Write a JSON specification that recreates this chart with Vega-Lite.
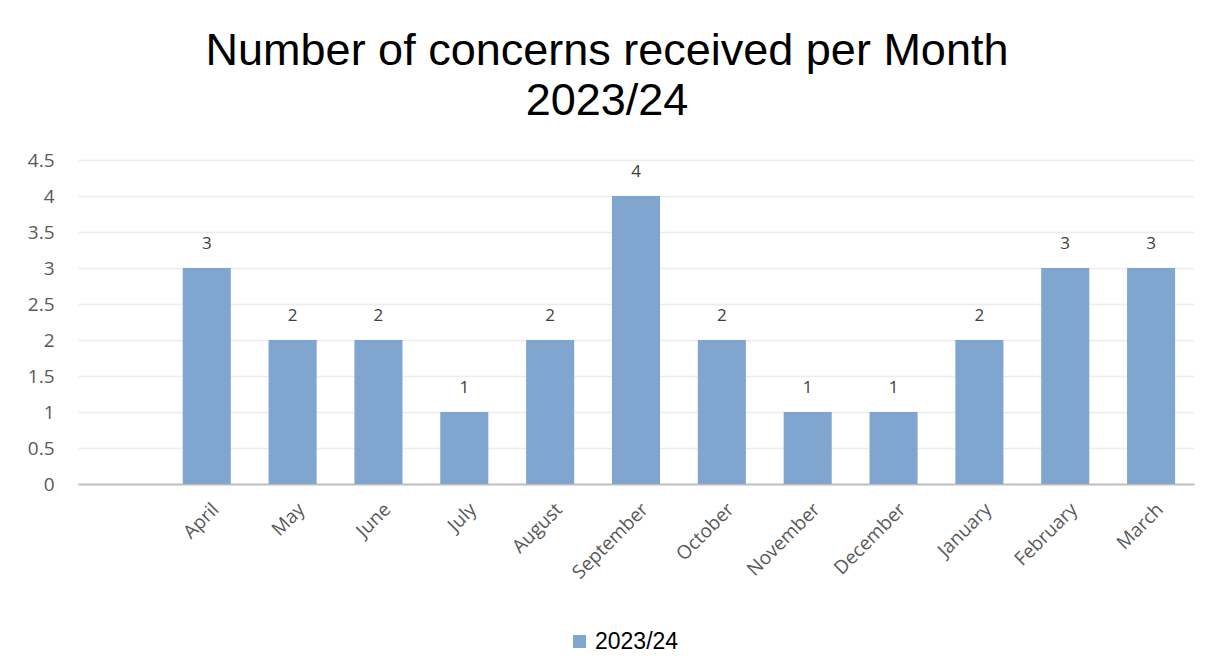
{
  "$schema": "https://vega.github.io/schema/vega-lite/v6.json",
  "width": 1116,
  "height": 324,
  "autosize": {"type": "none"},
  "padding": {"left": 78, "top": 160, "right": 18, "bottom": 186},
  "background": "white",
  "title": {
    "text": ["Number of concerns received per Month", "2023/24"],
    "font": "Liberation Sans",
    "fontSize": 45,
    "fontWeight": "normal",
    "color": "#000000",
    "lineHeight": 50,
    "anchor": "middle",
    "dx": -29,
    "offset": 27
  },
  "data": {
    "values": [
      {"month": "April", "count": 3, "series": "2023/24"},
      {"month": "May", "count": 2, "series": "2023/24"},
      {"month": "June", "count": 2, "series": "2023/24"},
      {"month": "July", "count": 1, "series": "2023/24"},
      {"month": "August", "count": 2, "series": "2023/24"},
      {"month": "September", "count": 4, "series": "2023/24"},
      {"month": "October", "count": 2, "series": "2023/24"},
      {"month": "November", "count": 1, "series": "2023/24"},
      {"month": "December", "count": 1, "series": "2023/24"},
      {"month": "January", "count": 2, "series": "2023/24"},
      {"month": "February", "count": 3, "series": "2023/24"},
      {"month": "March", "count": 3, "series": "2023/24"}
    ]
  },
  "encoding": {
    "x": {
      "field": "month",
      "type": "nominal",
      "sort": null,
      "scale": {
        "domain": [" ", "April", "May", "June", "July", "August", "September", "October", "November", "December", "January", "February", "March"],
        "paddingInner": 0.44,
        "paddingOuter": 0.22
      },
      "axis": {
        "title": null,
        "labelAngle": -45,
        "labelAlign": "right",
        "labelBaseline": "middle",
        "labelFont": "Open Sans",
        "labelFontSize": 19,
        "labelColor": "#595959",
        "labelPadding": 22,
        "labelOffset": 9,
        "ticks": false,
        "domainColor": "#bfbfbf",
        "domainWidth": 2,
        "grid": false
      }
    },
    "y": {
      "field": "count",
      "type": "quantitative",
      "scale": {"domain": [0, 4.5], "nice": false},
      "axis": {
        "title": null,
        "values": [0, 0.5, 1, 1.5, 2, 2.5, 3, 3.5, 4, 4.5],
        "format": "~g",
        "labelFont": "Open Sans",
        "labelFontSize": 19,
        "labelColor": "#595959",
        "labelPadding": 24,
        "ticks": false,
        "domain": false,
        "gridColor": "#ececec",
        "gridWidth": 1.5
      }
    }
  },
  "layer": [
    {
      "mark": {"type": "bar", "color": "#80a5cf"},
      "encoding": {
        "color": {
          "field": "series",
          "type": "nominal",
          "scale": {"range": ["#80a5cf"]},
          "legend": {
            "title": null,
            "orient": "none",
            "legendX": 490,
            "legendY": 470,
            "symbolType": "square",
            "symbolSize": 170,
            "symbolStrokeWidth": 0,
            "labelFont": "Liberation Sans",
            "labelFontSize": 23,
            "labelColor": "#000000",
            "labelOffset": 4
          }
        }
      }
    },
    {
      "mark": {
        "type": "text",
        "baseline": "alphabetic",
        "dy": -19,
        "font": "Open Sans",
        "fontSize": 17,
        "color": "#404040"
      },
      "encoding": {"text": {"field": "count", "type": "quantitative"}}
    }
  ],
  "config": {"view": {"stroke": null}}
}
